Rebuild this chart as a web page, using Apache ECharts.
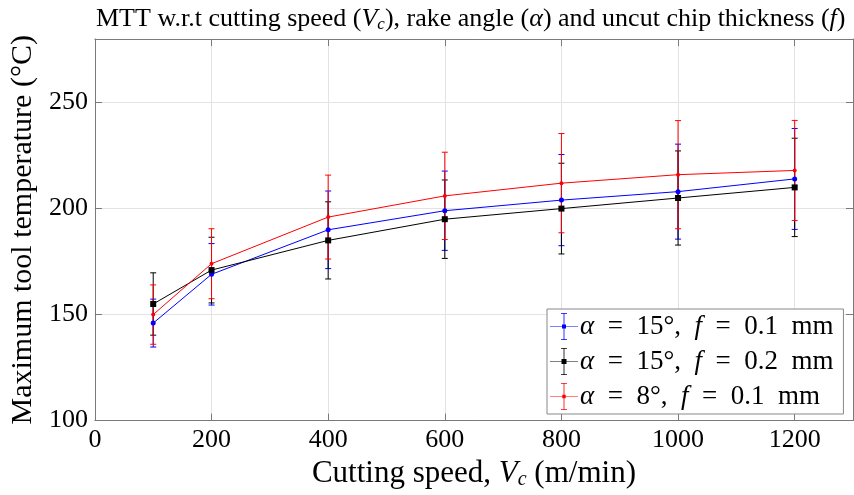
<!DOCTYPE html>
<html><head><meta charset="utf-8">
<script src="https://cdn.jsdelivr.net/npm/echarts@6/dist/echarts.min.js"></script>
<style>html,body{margin:0;padding:0;background:#fff}#c{width:854px;height:495px}</style>
</head><body><div id="c"></div>
<script>
// ---- data ----
const speeds = [100, 200, 400, 600, 800, 1000, 1200];
const seriesNames = ['a15f01', 'a15f02', 'a8f01'];
const legendLabels = ['{i|α}\u2002=\u200215°,\u2002{i|f}\u2002=\u20020.1\u2002mm', '{i|α}\u2002=\u200215°,\u2002{i|f}\u2002=\u20020.2\u2002mm', '{i|α}\u2002=\u20028°,\u2002{i|f}\u2002=\u20020.1\u2002mm'];
const mttA15F01 = [146, 169, 190, 199, 204, 208, 214];
const errA15F01 = [11.3, 14.5, 18.3, 18.7, 21.5, 22.4, 23.8];
const mttA15F02 = [155, 171, 185, 195, 200, 205, 210];
const errA15F02 = [14.7, 15.5, 18.2, 18.5, 21.4, 22.2, 23.2];
const mttA8F01 = [150, 174, 196, 206, 212, 216, 218];
const errA8F01 = [14.0, 16.5, 19.8, 20.6, 23.4, 25.5, 23.6];
const xTicks = [0, 200, 400, 600, 800, 1000, 1200];
const yTicks = [100, 150, 200, 250];

const FONT = 'Liberation Serif';
const colors = ['#0000ff', '#000000', '#ff0000'];
const symbols = ['circle', 'rect', 'circle'];
const symbolSizes = [5, 6, 4];
const vals = [mttA15F01, mttA15F02, mttA8F01];
const errs = [errA15F01, errA15F02, errA8F01];

const iconBase = 'M0,13.2H28V13.8H0Z M13.6,0.5H14.4V26.5H13.6Z M11,0H17V0.8H11Z M11,26.2H17V27H11Z ';
const iconMarks = ['M12,11.5H16V15.5H12Z', 'M11.5,11H16.5V16H11.5Z', 'M12.3,11.8H15.7V15.2H12.3Z'];

const series = [];
seriesNames.forEach((nm, k) => {
  series.push({
    type: 'line', name: nm, data: speeds.map((s, i) => [s, vals[k][i]]),
    symbol: symbols[k], symbolSize: symbolSizes[k], showSymbol: true,
    itemStyle: {color: colors[k]}, lineStyle: {color: colors[k], width: 1},
    xAxisIndex: 0, yAxisIndex: 0
  });
  series.push({
    type: 'custom', name: nm, silent: true, xAxisIndex: 0, yAxisIndex: 0,
    data: speeds.map((s, i) => [s, vals[k][i] - errs[k][i], vals[k][i] + errs[k][i]]),
    encode: {x: 0, y: [1, 2]},
    renderItem: function (params, api) {
      const x = api.value(0);
      const lo = api.coord([x, api.value(1)]);
      const hi = api.coord([x, api.value(2)]);
      const hw = 3;
      const st = {stroke: colors[k], lineWidth: 1, fill: null};
      return {type: 'group', children: [
        {type: 'line', shape: {x1: lo[0], y1: lo[1], x2: hi[0], y2: hi[1]}, style: st},
        {type: 'line', shape: {x1: lo[0] - hw, y1: lo[1], x2: lo[0] + hw, y2: lo[1]}, style: st},
        {type: 'line', shape: {x1: hi[0] - hw, y1: hi[1], x2: hi[0] + hw, y2: hi[1]}, style: st}
      ]};
    }
  });
});

const axisLineStyle = {color: '#7a7a7a', width: 1};
const chart = echarts.init(document.getElementById('c'), null, {renderer: 'canvas'});
chart.setOption({
  animation: false,
  backgroundColor: '#fff',
  title: {
    left: 91, top: 1,
    text: '{n|MTT w.r.t cutting speed (}{i|V}{s|c}{n|), rake angle (}{i|α}{n|) and uncut chip thickness (}{i|f}{n|)}',
    textStyle: {
      fontWeight: 'normal',
      rich: {
        n: {fontFamily: FONT, fontSize: 26, fontWeight: 'normal', color: '#000'},
        i: {fontFamily: FONT, fontSize: 26, fontWeight: 'normal', fontStyle: 'italic', color: '#000'},
        s: {fontFamily: FONT, fontSize: 17, fontWeight: 'normal', fontStyle: 'italic', color: '#000', verticalAlign: 'bottom', padding: [10, 0, 0, 0]}
      }
    }
  },
  grid: {left: 91, right: 1, top: 39, bottom: 64, containLabel: false},
  legend: {
    orient: 'vertical', left: 547, top: 309,
    data: seriesNames.map((nm, k) => ({name: nm, icon: 'path://' + iconBase + iconMarks[k], itemStyle: {color: colors[k]}})),
    itemWidth: 28, itemHeight: 27, itemGap: 8, padding: [4, 10, 4, 3],
    backgroundColor: '#fff', borderColor: '#888', borderWidth: 1,
    formatter: nm => legendLabels[seriesNames.indexOf(nm)],
    textStyle: {
      padding: [0, 0, 0, -3],
      rich: {
        i: {fontFamily: FONT, fontSize: 27, fontStyle: 'italic', color: '#000'}
      },
      fontFamily: FONT, fontSize: 27, color: '#000'
    }
  },
  xAxis: [{
    type: 'value', min: 0, max: 1300, interval: 200, position: 'bottom',
    name: '{n|Cutting speed, }{i|V}{s|c}{n| (m/min)}', nameLocation: 'middle', nameGap: 30,
    nameTextStyle: {rich: {
      n: {fontFamily: FONT, fontSize: 31, color: '#000'},
      i: {fontFamily: FONT, fontSize: 31, fontStyle: 'italic', color: '#000'},
      s: {fontFamily: FONT, fontSize: 20, fontStyle: 'italic', color: '#000', verticalAlign: 'bottom', padding: [12, 0, 0, 0]}
    }},
    axisLine: {show: true, onZero: false, lineStyle: axisLineStyle},
    axisTick: {show: true, inside: true, length: 7, lineStyle: axisLineStyle},
    axisLabel: {show: true, margin: 7, fontFamily: FONT, fontSize: 26, color: '#000', showMaxLabel: false,
      formatter: v => xTicks.includes(v) ? String(v) : ''},
    splitLine: {show: true, lineStyle: {color: '#e3e3e3', width: 1}}
  }, {
    type: 'value', min: 0, max: 1300, interval: 200, position: 'top',
    axisLine: {show: true, onZero: false, lineStyle: axisLineStyle},
    axisTick: {show: true, inside: true, length: 7, lineStyle: axisLineStyle},
    axisLabel: {show: false}, splitLine: {show: false}
  }],
  yAxis: [{
    type: 'value', min: 100, max: 280, interval: 50, position: 'left',
    name: 'Maximum tool temperature (°C)', nameLocation: 'middle', nameGap: 54,
    nameTextStyle: {fontFamily: FONT, fontSize: 30, color: '#000'},
    axisLine: {show: true, onZero: false, lineStyle: axisLineStyle},
    axisTick: {show: true, inside: true, length: 7, lineStyle: axisLineStyle},
    axisLabel: {show: true, margin: 7, fontFamily: FONT, fontSize: 26, color: '#000', showMaxLabel: false,
      formatter: v => yTicks.includes(v) ? String(v) : ''},
    splitLine: {show: true, lineStyle: {color: '#e3e3e3', width: 1}}
  }, {
    type: 'value', min: 100, max: 280, interval: 50, position: 'right',
    axisLine: {show: true, onZero: false, lineStyle: axisLineStyle},
    axisTick: {show: true, inside: true, length: 7, lineStyle: axisLineStyle},
    axisLabel: {show: false}, splitLine: {show: false}
  }],
  series: series
});
</script>
</body></html>
